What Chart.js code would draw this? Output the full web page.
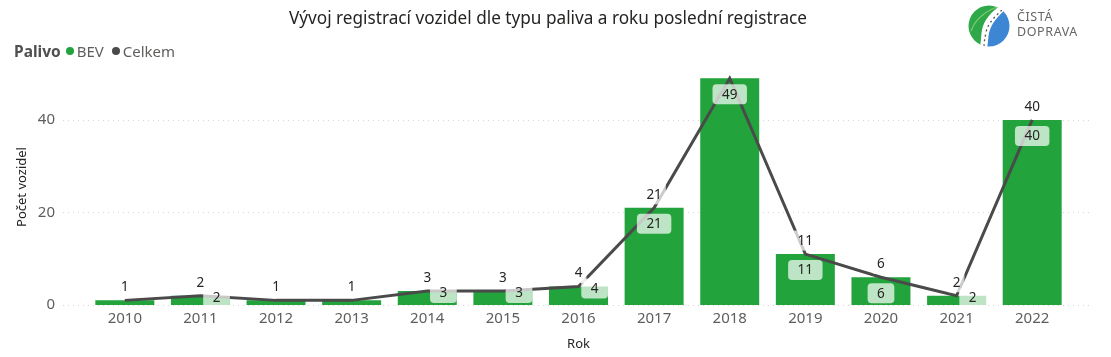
<!DOCTYPE html>
<html><head><meta charset="utf-8">
<script src="https://cdn.jsdelivr.net/npm/chart.js@4.4.1/dist/chart.umd.min.js"></script>
<style>
html,body{margin:0;padding:0;background:#fff;}
#wrap{position:relative;width:1111px;height:357px;font-family:"Noto Sans",sans-serif;overflow:hidden;}
#c{position:absolute;left:0;top:0;}
#title{position:absolute;left:0;width:1096px;top:6px;text-align:center;font-size:17.2px;color:#252423;white-space:nowrap;}
#legend{position:absolute;left:14px;top:40px;font-size:15px;color:#605E5C;white-space:nowrap;display:flex;align-items:center;}
#legend b{color:#505050;margin-right:5px;font-size:15.5px;}
.dot{display:inline-block;width:8px;height:8px;border-radius:50%;margin-right:3px;}
#logo{position:absolute;left:966px;top:5px;}
#logotext{position:absolute;left:1017px;top:10px;font-size:12.5px;line-height:14.5px;color:#666;letter-spacing:0.6px;}
</style></head>
<body><div id="wrap">
<canvas id="c" width="1111" height="357"></canvas>
<div id="title">Vývoj registrací vozidel dle typu paliva a roku poslední registrace</div>
<div id="legend"><b>Palivo</b><span class="dot" style="background:#22A33B"></span><span style="margin-right:8px">BEV</span><span class="dot" style="background:#4A4A4A"></span><span>Celkem</span></div>
<svg id="logo" width="46" height="44" viewBox="0 0 46 44">
  <defs><clipPath id="cc"><circle cx="23" cy="21" r="20.5"/></clipPath></defs>
  <g clip-path="url(#cc)">
    <rect x="0" y="0" width="46" height="44" fill="#ffffff"/>
    <path d="M41 3 C31 12 25 19 23 28 C22 34 22 38 21 44 L46 44 L46 0 Z" fill="#3C86D3"/>
    <path d="M35 0 C25 7 18 15 16 25 C15 31 15 36 14 42 C9 39 5 35 2 29 L0 0 Z" fill="#2FA84A"/>
    <path d="M5 26 C9 15 18 7 31 2" fill="none" stroke="#7CCB6E" stroke-width="1.3"/>
    <path d="M36 5 C28 12 22 19 20 27 C19 33 18 37 18 42" fill="none" stroke="#555" stroke-width="1.3" stroke-dasharray="2 3"/>
  </g>
</svg>
<div id="logotext">ČISTÁ<br>DOPRAVA</div>
</div>
<script>
const years = ["2010","2011","2012","2013","2014","2015","2016","2017","2018","2019","2020","2021","2022"];
const bevValues = [1,2,1,1,3,3,4,21,49,11,6,2,40];
const celkemValues = [1,2,1,1,3,3,4,21,49,11,6,2,40];
const yTicks = [0,20,40];

const GREEN = "#22A33B";
const DARK = "#4A4A4A";

function roundRect(ctx,x,y,w,h,r){
  ctx.beginPath();
  ctx.moveTo(x+r,y);
  ctx.lineTo(x+w-r,y);ctx.quadraticCurveTo(x+w,y,x+w,y+r);
  ctx.lineTo(x+w,y+h-r);ctx.quadraticCurveTo(x+w,y+h,x+w-r,y+h);
  ctx.lineTo(x+r,y+h);ctx.quadraticCurveTo(x,y+h,x,y+h-r);
  ctx.lineTo(x,y+r);ctx.quadraticCurveTo(x,y,x+r,y);
  ctx.closePath();
}

const gridPlugin = {
  id:"dotgrid",
  beforeDatasetsDraw(chart){
    const ctx = chart.ctx, ys = chart.scales.y;
    ctx.save();
    ctx.strokeStyle = "#d6d6d6";
    ctx.lineWidth = 1;
    ctx.setLineDash([1,4]);
    yTicks.forEach(v=>{
      const y = Math.round(ys.getPixelForValue(v))+0.5;
      ctx.beginPath();ctx.moveTo(63,y);ctx.lineTo(1092,y);ctx.stroke();
    });
    ctx.restore();
  }
};

const labelPlugin = {
  id:"dlabels",
  afterDatasetsDraw(chart){
    const ctx = chart.ctx, area = chart.chartArea;
    const barMeta = chart.getDatasetMeta(0);
    const lineMeta = chart.getDatasetMeta(1);
    ctx.save();
    ctx.font = '13.5px "Noto Sans", sans-serif';
    ctx.textAlign = "center";
    ctx.textBaseline = "middle";
    // Celkem labels
    lineMeta.data.forEach((pt,i)=>{
      const txt = String(celkemValues[i]);
      const cy = pt.y - 13.5;
      if (cy - 10 < area.top) return;
      const w = ctx.measureText(txt).width + 8;
      ctx.fillStyle = "rgba(255,255,255,0.72)";
      ctx.fillRect(pt.x - w/2, cy - 10, w, 20);
      ctx.fillStyle = "#252423";
      ctx.fillText(txt, pt.x, cy+0.5);
    });
    // BEV labels
    barMeta.data.forEach((bar,i)=>{
      const v = bevValues[i];
      if (v < 2) return;
      const txt = String(v);
      const tw = ctx.measureText(txt).width;
      const bw = tw + 19, bh = 20;
      const h = bar.base - bar.y;
      let bx, by;
      if (h >= 24) {
        bx = bar.x - bw/2; by = bar.y + 6;
      } else {
        bx = bar.x + bar.width/2 - bw; by = bar.y + 2 - bh/2;
      }
      ctx.fillStyle = "rgba(255,255,255,0.7)";
      roundRect(ctx,bx,by,bw,bh,4);
      ctx.fill();
      ctx.fillStyle = "#252423";
      ctx.fillText(txt, bx + bw/2, by + bh/2 + 0.5);
    });
    ctx.restore();
  }
};

new Chart(document.getElementById("c"), {
  data:{
    labels: years,
    datasets:[
      {type:"bar", label:"BEV", data:bevValues, backgroundColor:GREEN, barPercentage:0.78, categoryPercentage:1.0, order:2},
      {type:"line", label:"Celkem", data:celkemValues, borderColor:DARK, borderWidth:3, pointRadius:0, tension:0, order:1}
    ]
  },
  options:{
    responsive:false,
    animation:false,
    events:[],
    layout:{padding:{left:10,right:41,top:69,bottom:0}},
    plugins:{legend:{display:false}, title:{display:false}, tooltip:{enabled:false}},
    scales:{
      x:{
        offset:true,
        grid:{display:false, drawTicks:false},
        border:{display:false},
        ticks:{color:"#605E5C", font:{family:"Noto Sans", size:15}, padding:5, maxRotation:0},
        title:{display:true, text:"Rok", color:"#252423", font:{family:"Noto Sans", size:13}, padding:{top:0,bottom:5}},
        afterFit(s){ s.height = 52; }
      },
      y:{
        min:0, max:51,
        grid:{display:false, drawTicks:false},
        border:{display:false},
        afterBuildTicks(s){ s.ticks = yTicks.map(v=>({value:v})); },
        ticks:{color:"#605E5C", font:{family:"Noto Sans", size:15}, padding:32},
        title:{display:true, text:"Počet vozidel", color:"#252423", font:{family:"Noto Sans", size:13}, padding:{top:4,bottom:0}},
        afterFit(s){ s.width = 77; }
      }
    }
  },
  plugins:[gridPlugin,labelPlugin]
});
</script>
</body></html>
